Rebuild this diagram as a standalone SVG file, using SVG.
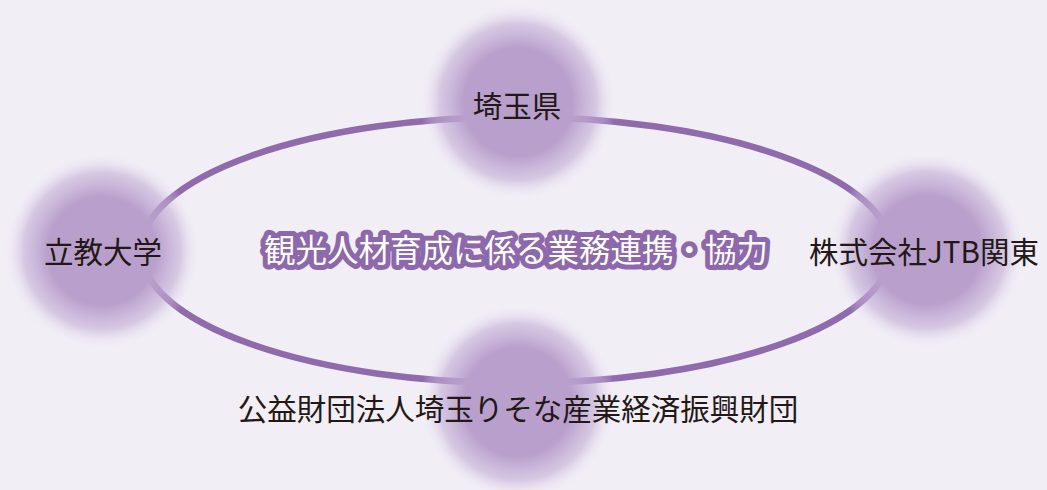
<svg xmlns="http://www.w3.org/2000/svg" width="1047" height="490" viewBox="0 0 1047 490">
<style>
.lbl{font-family:"Noto Sans CJK JP","Noto Sans",sans-serif;font-size:29.5px;fill:#231815;text-anchor:middle;dominant-baseline:central}
.title{font-family:"Noto Sans CJK JP","Noto Sans",sans-serif;font-size:31.5px;font-weight:400;fill:#ffffff;stroke:#8d69ac;stroke-width:10px;stroke-linejoin:round;paint-order:stroke;text-anchor:middle;dominant-baseline:central}
</style>
<defs>
<radialGradient id="glow" cx="0.5" cy="0.5" r="0.5">
<stop offset="0" stop-color="#b99fcc" stop-opacity="1"/>
<stop offset="0.55" stop-color="#b99fcc" stop-opacity="1"/>
<stop offset="0.8" stop-color="#c4aed6" stop-opacity="0.6"/>
<stop offset="1" stop-color="#f1eef6" stop-opacity="0"/>
</radialGradient>
</defs>
<rect width="1047" height="490" fill="#f1eef6"/>
<g id="connectors">
<ellipse cx="516" cy="250" rx="375" ry="133" fill="none" stroke="#8f6aad" stroke-width="6.5"/>
</g>
<g id="node-saitama">
<circle cx="518" cy="102" r="98" fill="url(#glow)"/>
<text class="lbl" x="517" y="104">埼玉県</text>
</g>
<g id="node-rikkyo">
<circle cx="102" cy="251" r="98" fill="url(#glow)"/>
<text class="lbl" x="103" y="250">立教大学</text>
</g>
<g id="node-jtb">
<circle cx="927" cy="250" r="98" fill="url(#glow)"/>
<text class="lbl" x="924" y="250">株式会社JTB関東</text>
</g>
<g id="node-resona">
<circle cx="518" cy="402" r="98" fill="url(#glow)"/>
<text class="lbl" x="518" y="407">公益財団法人埼玉りそな産業経済振興財団</text>
</g>
<g id="title">
<text class="title" x="516" y="248">観光人材育成に係る業務連携・協力</text>
</g>
</svg>
